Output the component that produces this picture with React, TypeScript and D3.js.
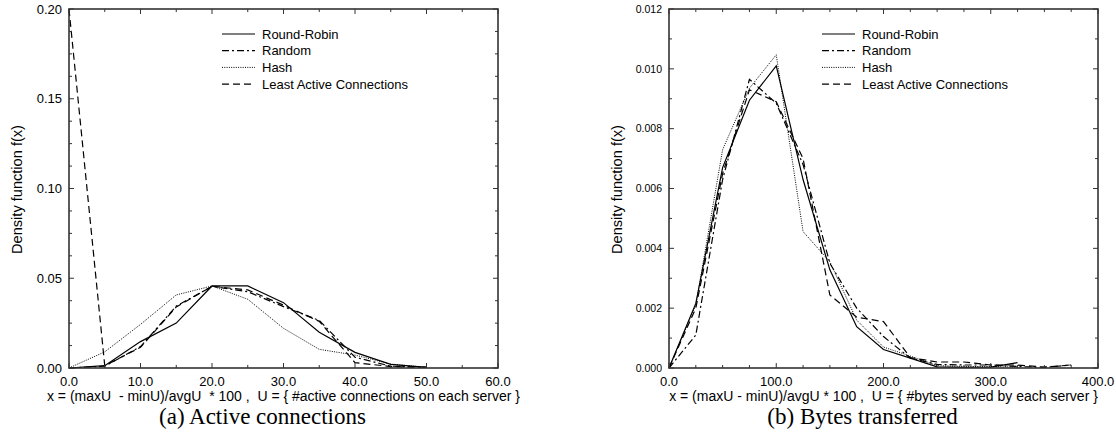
import * as d3 from "d3";
import React from "react";

// ---- panel (a): active connections ----
const connX = [0, 5, 10, 15, 20, 25, 30, 35, 40, 45, 50];
const connRoundRobin = [0, 0.0013, 0.0147, 0.025, 0.0457, 0.0457, 0.0364, 0.0199, 0.0087, 0.002, 0.0004];
const connRandom = [0, 0.001, 0.0119, 0.0345, 0.0455, 0.0425, 0.0342, 0.0265, 0.006, 0.001, 0.0005];
const connHash = [0, 0.009, 0.0243, 0.0407, 0.0457, 0.0383, 0.0221, 0.0104, 0.0072, 0.0022, 0.0004];
const connLeast = [0.2, 0.0013, 0.0115, 0.034, 0.0455, 0.0435, 0.035, 0.026, 0.003, 0.0008, 0.0003];
const connXTicks = [0, 10, 20, 30, 40, 50, 60];
const connYTicks = [0, 0.05, 0.1, 0.15, 0.2];

// ---- panel (b): bytes transferred ----
const bytesX = [0, 25, 50, 75, 100, 125, 150, 175, 200, 225, 250, 275, 300, 325, 350, 375];
const bytesRoundRobin = [0, 0.00216, 0.0067, 0.00895, 0.0101, 0.0063, 0.00328, 0.00138, 0.00062, 0.00033, 0.00004, 0.00002, 0.00003, 0.00018, null, null];
const bytesRandom = [0, 0.0011, 0.0063, 0.00965, 0.00885, 0.0068, 0.0035, 0.002, 0.00105, 0.00033, 0.00012, 0.0001, 0.0001, 0.00005, 0.00002, 0.0001];
const bytesHash = [0, 0.0021, 0.0073, 0.00935, 0.01047, 0.00456, 0.00355, 0.0016, 0.0007, 0.0004, 0.00008, 0.00005, 0.00005, 0.00003, null, null];
const bytesLeast = [0, 0.002, 0.0065, 0.0093, 0.0089, 0.007, 0.00244, 0.0017, 0.00155, 0.00035, 0.0002, 0.0002, 0.0001, 0.0001, 0.00003, 0.0001];
const bytesXTicks = [0, 100, 200, 300, 400];
const bytesYTicks = [0, 0.002, 0.004, 0.006, 0.008, 0.01, 0.012];

const seriesNames = ["Round-Robin", "Random", "Hash", "Least Active Connections"];
const dashes = [null, "7,3,2,3", "1,1.3", "7,4"];

const sans = "'Liberation Sans', Arial, sans-serif";
const serif = "'Liberation Serif', 'Times New Roman', serif";
const axisColor = "#333";

function Panel({ left, xs, series, xDomain, yDomain, xTicks, yTicks, xMinorStep, yMinorStep, xFmt, yFmt, yTickSize, xTitle, caption }) {
  const top = 9;
  const bottom = 368;
  const width = 429;
  const x = d3.scaleLinear().domain(xDomain).range([left, left + width]);
  const y = d3.scaleLinear().domain(yDomain).range([bottom, top]);
  const right = left + width;
  const xMinor = d3.range(xDomain[0], xDomain[1] + 1e-9, xMinorStep);
  const yMinor = d3.range(yDomain[0], yDomain[1] + 1e-9, yMinorStep);
  const isMajorX = (v) => xTicks.some((t) => Math.abs(t - v) < 1e-9);
  const isMajorY = (v) => yTicks.some((t) => Math.abs(t - v) < 1e-9);
  const line = d3
    .line<any>()
    .defined((d) => d[1] != null)
    .x((d) => x(d[0]))
    .y((d) => y(d[1]));
  const cx = left + width / 2;
  const legX = left + 153;

  return (
    <g>
      {series.map((vals, i) => (
        <path
          key={i}
          d={line(xs.map((xv, j) => [xv, vals[j]])) || ""}
          fill="none"
          stroke="#000"
          strokeWidth={i === 2 ? 1 : 1.2}
          strokeDasharray={dashes[i] || undefined}
        />
      ))}
      {/* ticks on all four sides, pointing in */}
      {xMinor.map((v, i) => {
        const len = isMajorX(v) ? 5 : 3;
        return (
          <g key={"xt" + i} stroke={axisColor} strokeWidth={1}>
            <line x1={x(v)} x2={x(v)} y1={bottom} y2={bottom - len} />
            <line x1={x(v)} x2={x(v)} y1={top} y2={top + len} />
          </g>
        );
      })}
      {yMinor.map((v, i) => {
        const len = isMajorY(v) ? 5 : 3;
        return (
          <g key={"yt" + i} stroke={axisColor} strokeWidth={1}>
            <line x1={left} x2={left + len} y1={y(v)} y2={y(v)} />
            <line x1={right} x2={right - len} y1={y(v)} y2={y(v)} />
          </g>
        );
      })}
      <rect x={left} y={top} width={width} height={bottom - top} fill="none" stroke={axisColor} strokeWidth={1.6} />
      {xTicks.map((v) => (
        <text key={"xl" + v} x={x(v)} y={386} textAnchor="middle" fontFamily={sans} fontSize={13}>
          {xFmt(v)}
        </text>
      ))}
      {yTicks.map((v) => (
        <text key={"yl" + v} x={left - 7} y={y(v) + yTickSize * 0.36} textAnchor="end" fontFamily={sans} fontSize={yTickSize}>
          {yFmt(v)}
        </text>
      ))}
      <text
        transform={`translate(${left - 47},${(top + bottom) / 2 + 1}) rotate(-90)`}
        textAnchor="middle"
        fontFamily={sans}
        fontSize={14.6}
      >
        Density function f(x)
      </text>
      <text x={cx} y={401} textAnchor="middle" fontFamily={sans} fontSize={14} style={{ whiteSpace: "pre" }}>
        {xTitle}
      </text>
      <text x={cx - 21} y={424} textAnchor="middle" fontFamily={serif} fontSize={23}>
        {caption}
      </text>
      {seriesNames.map((name, i) => (
        <g key={"lg" + i}>
          <line
            x1={legX}
            x2={legX + 33}
            y1={34 + i * 16.7}
            y2={34 + i * 16.7}
            stroke="#000"
            strokeWidth={i === 2 ? 1 : 1.2}
            strokeDasharray={dashes[i] || undefined}
          />
          <text x={legX + 40} y={34 + i * 16.7 + 4.5} fontFamily={sans} fontSize={13}>
            {name}
          </text>
        </g>
      ))}
    </g>
  );
}

export default function App() {
  return (
    <svg width={1116} height={435} style={{ position: "absolute", left: 0, top: 0, background: "#fff" }}>
      <Panel
        left={69}
        xs={connX}
        series={[connRoundRobin, connRandom, connHash, connLeast]}
        xDomain={[0, 60]}
        yDomain={[0, 0.2]}
        xTicks={connXTicks}
        yTicks={connYTicks}
        xMinorStep={5}
        yMinorStep={0.0125}
        xFmt={d3.format(".1f")}
        yFmt={d3.format(".2f")}
        yTickSize={13}
        xTitle="x = (maxU  - minU)/avgU  * 100 ,  U = { #active connections on each server }"
        caption="(a) Active connections"
      />
      <Panel
        left={669}
        xs={bytesX}
        series={[bytesRoundRobin, bytesRandom, bytesHash, bytesLeast]}
        xDomain={[0, 400]}
        yDomain={[0, 0.012]}
        xTicks={bytesXTicks}
        yTicks={bytesYTicks}
        xMinorStep={25}
        yMinorStep={0.001}
        xFmt={d3.format(".1f")}
        yFmt={d3.format(".3f")}
        yTickSize={10.5}
        xTitle="x = (maxU - minU)/avgU * 100 ,  U = { #bytes served by each server }"
        caption="(b) Bytes transferred"
      />
    </svg>
  );
}
